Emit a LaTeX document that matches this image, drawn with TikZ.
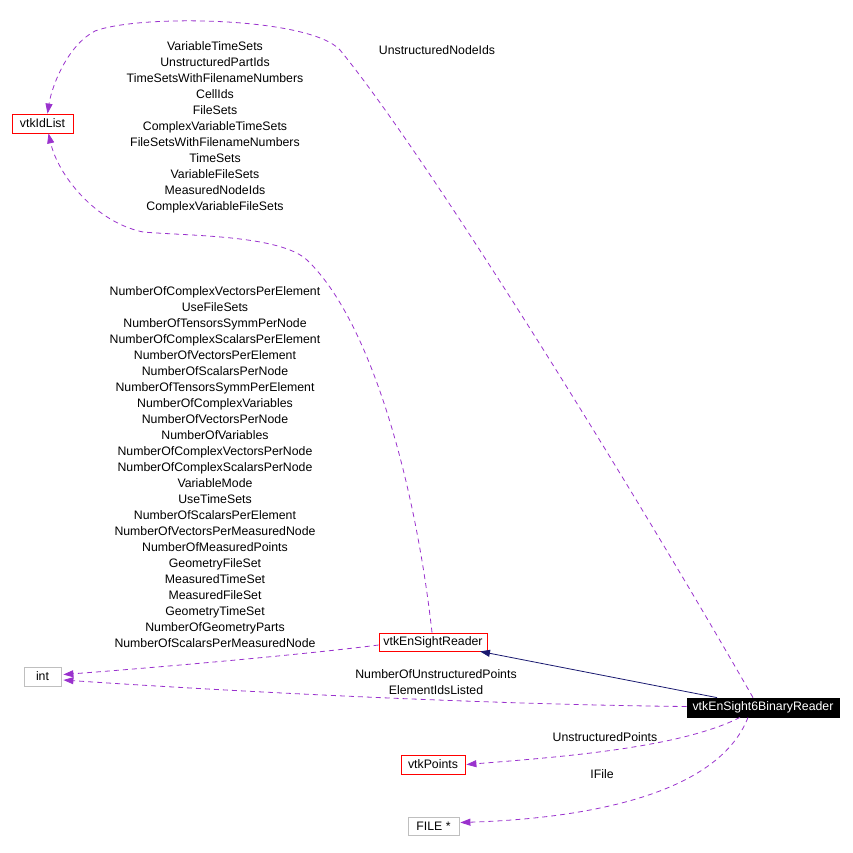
\documentclass[tikz,border=0pt]{standalone}
\usepackage{fontspec}
\setmainfont{Liberation Sans}
\usetikzlibrary{arrows.meta,positioning,calc}
\definecolor{roxo}{HTML}{9A32CD}
\definecolor{marinho}{HTML}{191970}
\definecolor{cinza}{HTML}{BFBFBF}

\begin{document}
\begin{tikzpicture}[
x=1pt, y=-1pt,
classe/.style={
rectangle,
draw=red,
line width=0.8pt,
align=center,
inner sep=0pt,
minimum height=19pt,
font=\fontsize{12.3}{16}\selectfont
},
externa/.style={
classe,
draw=cinza
},
principal/.style={
classe,
draw=black,
fill=black,
text=white
},
rotulo/.style={
align=center,
inner sep=0pt,
font=\fontsize{12.3}{16}\selectfont
},
heranca/.style={-{Triangle[length=10pt,width=7pt,fill=marinho]}, draw=marinho, line width=0.8pt},
uso/.style={-{Triangle[length=10pt,width=7pt,fill=roxo]}, draw=roxo, line width=0.8pt, dash pattern=on 5pt off 4pt}
]
\useasboundingbox (0,0) rectangle (853,852);

\node[classe, minimum width=61pt] (idl) at (42.5,123.5) {vtkIdList};
\node[externa, minimum width=37pt] (int) at (42.5,676.5) {int};
\node[classe, minimum width=108pt, minimum height=18pt] (enr) at (433,642) {vtkEnSightReader};
\node[principal, minimum width=152pt] (bin) at (763,707.5) {vtkEnSight6BinaryReader};
\node[classe, minimum width=64pt] (vpt) at (433,764.5) {vtkPoints};
\node[externa, minimum width=51pt, minimum height=18pt] (fil) at (433.5,826.5) {FILE *};

\node[rotulo] (lblnos) at (437,50) {UnstructuredNodeIds};
\node[rotulo] (lblids) at (215,127) {VariableTimeSets\\UnstructuredPartIds\\TimeSetsWithFilenameNumbers\\CellIds\\FileSets\\ComplexVariableTimeSets\\FileSetsWithFilenameNumbers\\TimeSets\\VariableFileSets\\MeasuredNodeIds\\ComplexVariableFileSets};
\node[rotulo] (lblint) at (215,467) {NumberOfComplexVectorsPerElement\\UseFileSets\\NumberOfTensorsSymmPerNode\\NumberOfComplexScalarsPerElement\\NumberOfVectorsPerElement\\NumberOfScalarsPerNode\\NumberOfTensorsSymmPerElement\\NumberOfComplexVariables\\NumberOfVectorsPerNode\\NumberOfVariables\\NumberOfComplexVectorsPerNode\\NumberOfComplexScalarsPerNode\\VariableMode\\UseTimeSets\\NumberOfScalarsPerElement\\NumberOfVectorsPerMeasuredNode\\NumberOfMeasuredPoints\\GeometryFileSet\\MeasuredTimeSet\\MeasuredFileSet\\GeometryTimeSet\\NumberOfGeometryParts\\NumberOfScalarsPerMeasuredNode};
\node[rotulo] (lblbin) at (436,682) {NumberOfUnstructuredPoints\\ElementIdsListed};
\node[rotulo] (lblpts) at (605,737) {UnstructuredPoints};
\node[rotulo] (lblfil) at (602,774) {IFile};

\draw[heranca] ($(bin.north)+(-46,0)$) -- ($(enr.south)+(47,0)$);

\draw[uso] ($(enr.north)+(-1,0)$) .. controls (415,480) and (370,320) .. (307,260) .. controls (280,235) and (190,236) .. (143,232) .. controls (95,222) and (58,175) .. ($(idl.south)+(6,0)$);
\draw[uso] ($(bin.north)+(-10,0)$) .. controls (640,500) and (430,160) .. (340,50) .. controls (310,17) and (140,14) .. (95,31) .. controls (68,45) and (52,85) .. ($(idl.north)+(5,0)$);

\draw[uso] ($(enr.west)+(0,3)$) .. controls (300,655) and (150,668) .. ($(int.east)+(2,-2)$);
\draw[uso] ($(bin.west)+(0,-1)$) .. controls (450,704) and (180,688) .. ($(int.east)+(2,3.5)$);

\draw[uso] ($(bin.south)+(-23,0)$) .. controls (680,748) and (560,757) .. ($(vpt.east)+(1,0)$);
\draw[uso] ($(bin.south)+(-15,0)$) .. controls (720,790) and (600,818) .. ($(fil.east)+(1,-4)$);

\end{tikzpicture}
\end{document}
